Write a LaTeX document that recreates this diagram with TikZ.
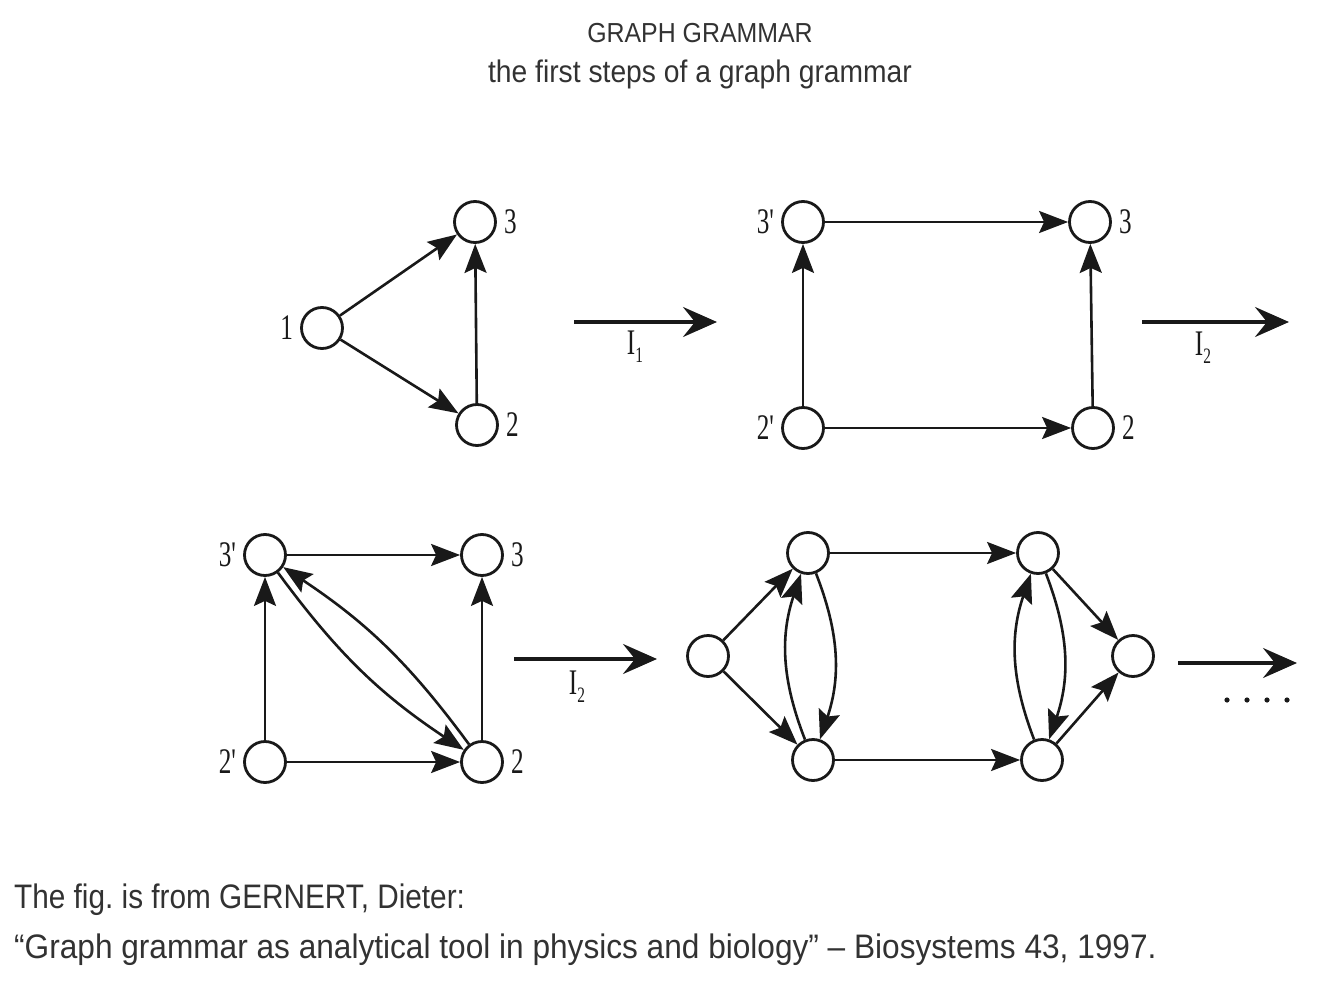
\documentclass[tikz,border=0pt]{standalone}
\usepackage{fontspec}
\usepackage{tikz}
\usetikzlibrary{arrows.meta,positioning}
\newfontfamily\capfont{Liberation Sans}[FakeStretch=0.905]
\newfontfamily\srcfont{Liberation Sans}[FakeStretch=0.875]
\newfontfamily\srcwidefont{Liberation Sans}[FakeStretch=0.93]
\newfontfamily\numfont{Liberation Serif}[FakeStretch=0.7]
\definecolor{ink}{RGB}{25, 25, 25}
\definecolor{print}{RGB}{50, 50, 50}
\newcommand\numsize{\numfont\fontsize{36}{36}\selectfont}
\newcommand\prodlabel[1]{I\lower8pt\hbox{\fontsize{22}{22}\selectfont #1}}
\frenchspacing
\tikzstyle{vertex} = [
    circle,
    draw=ink,
    line width=2.8pt,
    minimum size=41pt,
    inner sep=0pt,
    fill=white
]
\tikzstyle{edge} = [
    line width=2.6pt,
    draw=ink,
    -{Stealth[length=29pt,width=22pt,inset=5pt]}
]
\tikzstyle{rulearrow} = [
    line width=3.2pt,
    draw=ink,
    -{Stealth[length=34pt,width=30pt,inset=12pt]}
]
\tikzstyle{num} = [
    font=\numsize,
    text=ink,
    inner sep=1pt
]
\tikzstyle{note} = [
    font=\capfont,
    text=print,
    inner sep=0pt
]

\begin{document}
\begin{tikzpicture}[
        x=1pt, y=-1pt,
        label distance=6pt,
        every label/.style={num}
    ]
    \useasboundingbox (0,0) rectangle (1342,982);

    % heading
    \node[note, anchor=base, font=\capfont\fontsize{27.5}{30}\selectfont] (head) at (700,43) {GRAPH GRAMMAR};
    \node[note, anchor=base, font=\capfont\fontsize{31.2}{36}\selectfont] (sub) at (700,83) {the first steps of a graph grammar};

    % start graph
    \node[vertex, label=left:1] (one) at (322,328) {};
    \node[vertex, label=right:3] (three) at (475,222) {};
    \node[vertex, label=right:2] (two) at (477,425) {};
    \draw[edge] (one) -- (three);
    \draw[edge] (one) -- (two);
    \draw[edge] (two) -- (three);

    \coordinate (ruleAs) at (574,322);
    \coordinate (ruleAe) at (717,322);
    \draw[rulearrow] (ruleAs) -- (ruleAe);
    \node[num] (ruleA) at (635,347) {\prodlabel{1}};

    % after I1
    \node[vertex, label=left:3'] (sqThreep) at (803,222) {};
    \node[vertex, label=right:3] (sqThree) at (1090,222) {};
    \node[vertex, label=left:2'] (sqTwop) at (803,428) {};
    \node[vertex, label=right:2] (sqTwo) at (1093,428) {};
    \draw[edge] (sqTwop) -- (sqThreep);
    \draw[edge] (sqThreep) -- (sqThree);
    \draw[edge] (sqTwop) -- (sqTwo);
    \draw[edge] (sqTwo) -- (sqThree);

    \coordinate (ruleBs) at (1142,322);
    \coordinate (ruleBe) at (1289,322);
    \draw[rulearrow] (ruleBs) -- (ruleBe);
    \node[num] (ruleB) at (1203,348) {\prodlabel{2}};

    % second step
    \node[vertex, label=left:3'] (dgThreep) at (265,555) {};
    \node[vertex, label=right:3] (dgThree) at (482,555) {};
    \node[vertex, label=left:2'] (dgTwop) at (265,762) {};
    \node[vertex, label=right:2] (dgTwo) at (482,762) {};
    \draw[edge] (dgTwop) -- (dgThreep);
    \draw[edge] (dgThreep) -- (dgThree);
    \draw[edge] (dgTwop) -- (dgTwo);
    \draw[edge] (dgTwo) -- (dgThree);
    \draw[edge] (dgTwo) to[bend right=10] (dgThreep);
    \draw[edge] (dgThreep) to[bend right=10] (dgTwo);

    \coordinate (ruleCs) at (514,659);
    \coordinate (ruleCe) at (657,659);
    \draw[rulearrow] (ruleCs) -- (ruleCe);
    \node[num] (ruleC) at (577,687) {\prodlabel{2}};

    % grown graph
    \node[vertex] (lf) at (708,656) {};
    \node[vertex] (topA) at (808,553) {};
    \node[vertex] (botA) at (813,760) {};
    \node[vertex] (topB) at (1038,553) {};
    \node[vertex] (botB) at (1042,760) {};
    \node[vertex] (rt) at (1133,656) {};
    \draw[edge] (lf) -- (topA);
    \draw[edge] (lf) -- (botA);
    \draw[edge] (topA) -- (topB);
    \draw[edge] (botA) -- (botB);
    \draw[edge] (topB) -- (rt);
    \draw[edge] (botB) -- (rt);
    \draw[edge] (botA) to[bend left=20] (topA);
    \draw[edge] (topA) to[bend left=20] (botA);
    \draw[edge] (botB) to[bend left=20] (topB);
    \draw[edge] (topB) to[bend left=20] (botB);

    \coordinate (ruleDs) at (1178,663);
    \coordinate (ruleDe) at (1297,663);
    \draw[rulearrow] (ruleDs) -- (ruleDe);
    \foreach \x in {1227,1247,1267,1287}
        \fill[ink] (\x,700) circle (2.6pt);

    % source
    \node[note, anchor=base west, font=\srcfont\fontsize{34}{40}\selectfont] (srcA) at (14,908) {The fig. is from GERNERT, Dieter:};
    \node[note, anchor=base west, font=\srcwidefont\fontsize{34}{40}\selectfont] (srcB) at (14,958) {“Graph grammar as analytical tool in physics and biology” – Biosystems 43, 1997.};
\end{tikzpicture}
\end{document}
